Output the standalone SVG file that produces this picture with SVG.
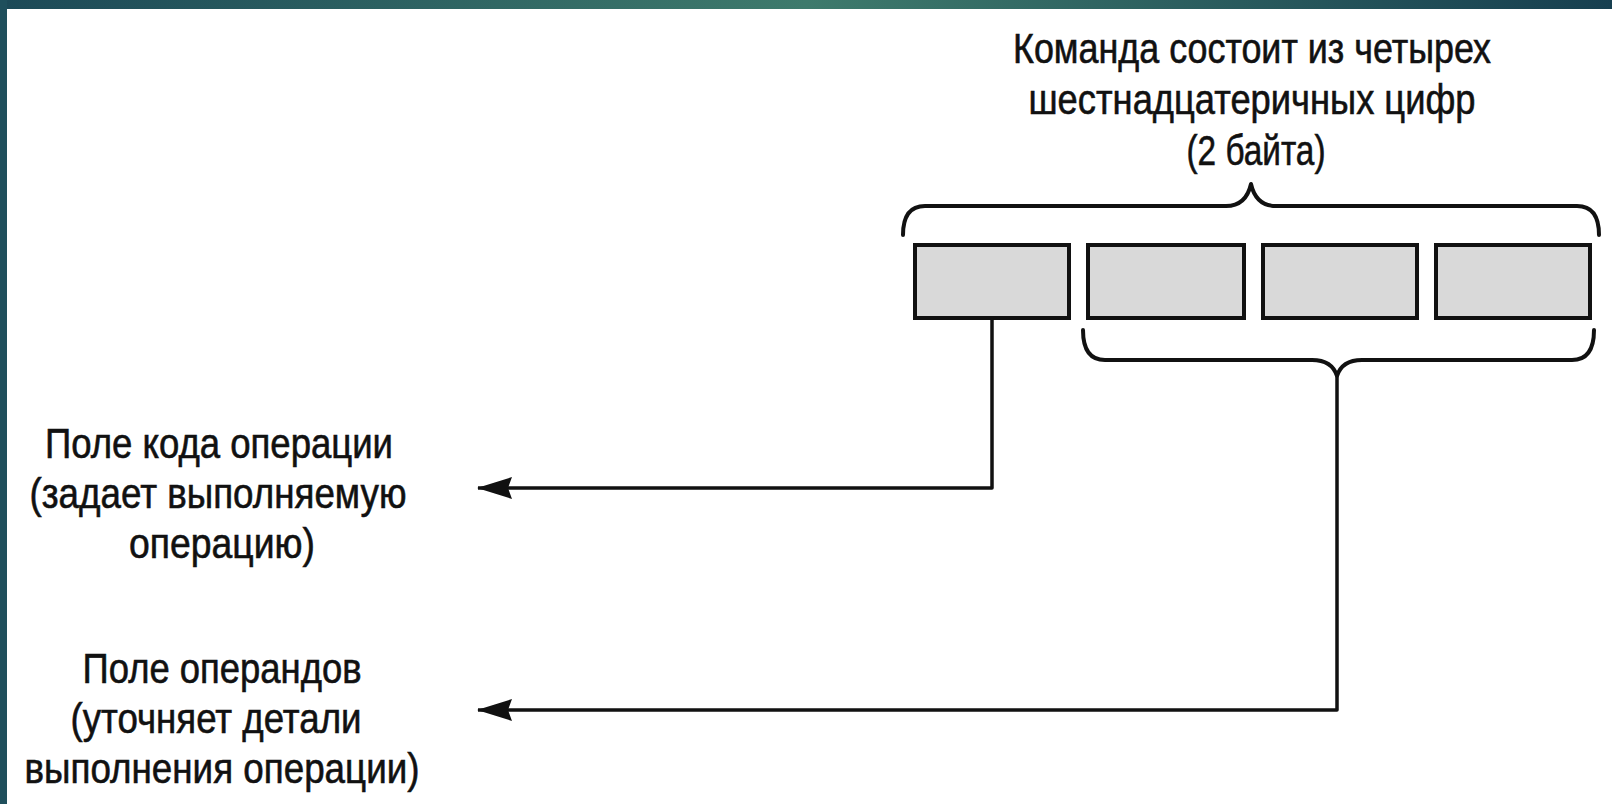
<svg xmlns="http://www.w3.org/2000/svg" width="1612" height="804" viewBox="0 0 1612 804">
<style>
.t{font-family:"Liberation Sans Narrow","Liberation Sans",Arial,sans-serif;font-size:42px;fill:#111;stroke:#111;stroke-width:0.6;text-anchor:middle}
.box{fill:#d9d9d9;stroke:#111;stroke-width:4}
.ln{fill:none;stroke:#111;stroke-width:3.5;stroke-linejoin:round}
.br{fill:none;stroke:#111;stroke-width:4;stroke-linecap:round;stroke-linejoin:round}
</style>
<defs>
<linearGradient id="band" x1="0" y1="0" x2="1" y2="0">
<stop offset="0" stop-color="#1c4957"/>
<stop offset="0.5" stop-color="#3e7a6c"/>
<stop offset="1" stop-color="#173f50"/>
</linearGradient>
<marker id="arr" markerUnits="userSpaceOnUse" markerWidth="38" markerHeight="26" refX="34" refY="13" orient="auto">
<path d="M0,2 L35,13 L0,24 L4,13 z" fill="#111"/>
</marker>
</defs>
<rect x="0" y="0" width="1612" height="804" fill="#ffffff"/>
<rect x="0" y="0" width="1612" height="9" fill="url(#band)"/>
<rect x="0" y="0" width="7" height="804" fill="#1f4f5c"/>

<g id="title">
<text class="t" x="1252" y="63" textLength="478" lengthAdjust="spacingAndGlyphs">Команда состоит из четырех</text>
<text class="t" x="1252" y="114" textLength="447" lengthAdjust="spacingAndGlyphs">шестнадцатеричных цифр</text>
<text class="t" x="1256" y="165" textLength="139" lengthAdjust="spacingAndGlyphs">(2 байта)</text>
</g>

<g id="brace-top">
<path class="br" d="M903,235 Q903,206 925,206 L1226,206 Q1246,206 1251,184 Q1256,206 1276,206 L1577,206 Q1599,206 1599,235"/>
</g>

<g id="box1"><rect class="box" x="915" y="245" width="154" height="73"/></g>
<g id="box2"><rect class="box" x="1088" y="245" width="156" height="73"/></g>
<g id="box3"><rect class="box" x="1263" y="245" width="154" height="73"/></g>
<g id="box4"><rect class="box" x="1436" y="245" width="154" height="73"/></g>

<g id="brace-bottom">
<path class="br" d="M1083,330 Q1083,360 1105,360 L1312,360 Q1332,360 1337,376 Q1342,360 1362,360 L1572,360 Q1594,360 1594,330"/>
</g>

<g id="label-opcode">
<text class="t" x="219" y="458" textLength="348" lengthAdjust="spacingAndGlyphs">Поле кода операции</text>
<text class="t" x="218" y="508" textLength="377" lengthAdjust="spacingAndGlyphs">(задает выполняемую</text>
<text class="t" x="222" y="558" textLength="186" lengthAdjust="spacingAndGlyphs">операцию)</text>
</g>

<g id="label-operands">
<text class="t" x="222" y="683" textLength="279" lengthAdjust="spacingAndGlyphs">Поле операндов</text>
<text class="t" x="216" y="733" textLength="291" lengthAdjust="spacingAndGlyphs">(уточняет детали</text>
<text class="t" x="222" y="783" textLength="395" lengthAdjust="spacingAndGlyphs">выполнения операции)</text>
</g>

<g id="connectors">
<path class="ln" d="M992,318 L992,488 L478,488" marker-end="url(#arr)"/>
<path class="ln" d="M1337,376 L1337,710 L478,710" marker-end="url(#arr)"/>
</g>
</svg>
